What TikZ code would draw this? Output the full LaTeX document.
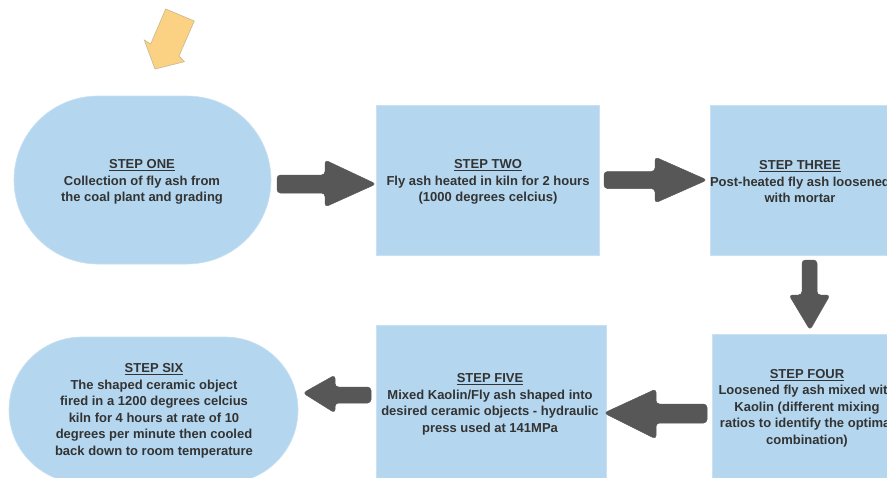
\documentclass[tikz,border=0pt]{standalone}
\usepackage{fontspec}
\setmainfont{Liberation Sans}
\begin{document}
\begin{tikzpicture}[x=1pt,y=-1pt,
  boxfill/.style={fill=stepblue, draw=stepedge, line width=0.6pt},
  steptext/.style={align=center, text=textgrey, inner sep=0pt,
    font=\fontsize{13}{16.5}\selectfont\bfseries},
  blockarrow/.style={fill=arrowgrey, draw=arrowgrey, line width=0.5pt, rounded corners=3.5pt}]
\definecolor{stepblue}{HTML}{B4D7EF}
\definecolor{stepedge}{HTML}{C9E1F2}
\definecolor{arrowgrey}{HTML}{575757}
\definecolor{textgrey}{HTML}{333333}
\definecolor{yellowfill}{HTML}{FBD284}
\definecolor{yellowedge}{HTML}{C8B88E}
\useasboundingbox (0,0) rectangle (887,477);
\clip (0,0) rectangle (887,477);
\fill[white] (0,0) rectangle (887,477);

% yellow start arrow
\draw[fill=yellowfill, draw=yellowedge, line width=0.6pt]
  (165.7,9) -- (194.3,21) -- (179,56) -- (184.3,61.7) -- (155,69)
  -- (144.3,40) -- (150.7,44) -- cycle;

% shapes
\node[boxfill, rounded corners=84pt, minimum width=257pt, minimum height=168pt, inner sep=0pt] (s1) at (142.5,180) {};
\node[boxfill, minimum width=223pt, minimum height=150pt, inner sep=0pt] (s2) at (487.5,180) {};
\node[boxfill, minimum width=223pt, minimum height=150pt, inner sep=0pt, anchor=north west] (s3) at (709.5,105) {};
\node[boxfill, minimum width=223pt, minimum height=170pt, inner sep=0pt, anchor=north west] (s4) at (712,334) {};
\node[boxfill, minimum width=230pt, minimum height=170pt, inner sep=0pt, anchor=north west] (s5) at (375.5,325) {};
\node[boxfill, rounded corners=73pt, minimum width=289pt, minimum height=146pt, inner sep=0pt] (s6) at (153.5,410) {};

% texts
\node[steptext] (t1) at (142,182) {\underline{STEP ONE}\\Collection of fly ash from\\the coal plant and grading};
\node[steptext] (t2) at (488,182) {\underline{STEP TWO}\\Fly ash heated in kiln for 2 hours\\(1000 degrees celcius)};
\node[steptext] (t3) at (800,182) {\underline{STEP THREE}\\Post-heated fly ash loosened\\with mortar};
\node[steptext] (t4) at (807,408) {\underline{STEP FOUR}\\Loosened fly ash mixed with\\Kaolin (different mixing\\ratios to identify the optimal\\combination)};
\node[steptext] (t5) at (490,404.5) {\underline{STEP FIVE}\\Mixed Kaolin/Fly ash shaped into\\desired ceramic objects - hydraulic\\press used at 141MPa};
\node[steptext] (t6) at (154,411) {\underline{STEP SIX}\\The shaped ceramic object\\fired in a 1200 degrees celcius\\kiln for 4 hours at rate of 10\\degrees per minute then cooled\\back down to room temperature};

% block arrows
\draw[blockarrow] (277,175) -- (325,175) -- (325,160) -- (376,184) -- (325,207) -- (325,193) -- (277,193) -- cycle;
\draw[blockarrow] (604,171.5) -- (655,171.5) -- (655,157) -- (707,180) -- (655,203) -- (655,188.5) -- (604,188.5) -- cycle;
\draw[blockarrow] (802,260) -- (817,260) -- (817,295) -- (830,295) -- (810,330) -- (789,295) -- (802,295) -- cycle;
\draw[blockarrow] (707,404) -- (656,404) -- (656,389) -- (604,413) -- (656,439) -- (656,423) -- (707,423) -- cycle;
\draw[blockarrow] (371,387) -- (335,387) -- (335,375) -- (303,393) -- (335,413) -- (335,403) -- (371,403) -- cycle;
\end{tikzpicture}
\end{document}
